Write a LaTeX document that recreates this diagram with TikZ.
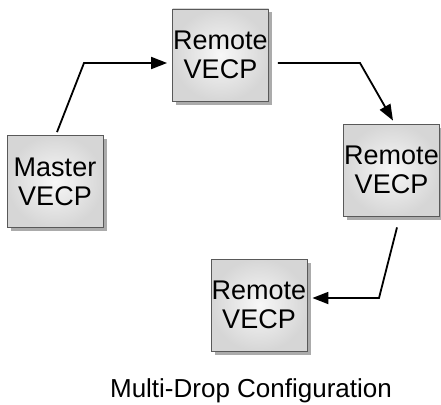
\documentclass[tikz,border=0pt]{standalone}
\usepackage{fontspec}
\setmainfont{Liberation Sans}
\usetikzlibrary{arrows.meta,shadows}
\begin{document}
\begin{tikzpicture}[x=1pt,y=-1pt,
  vecp/.style={draw=black!65, line width=0.8pt, minimum width=96pt, minimum height=92pt,
    inner sep=0pt, align=center, shade, inner color=white!97!black, outer color=black!16,
    font=\fontsize{27}{29}\selectfont,
    drop shadow={shadow xshift=3.5pt, shadow yshift=-3.5pt, fill=black!33, opacity=1}},
  conn/.style={line width=1.8pt, -{Triangle[length=16pt,width=12pt]}},
  caption/.style={font=\fontsize{26}{29}\selectfont, anchor=base}]
\useasboundingbox (0,0) rectangle (441,404);
\node[vecp] (m)  at (55,181.5)  {Master\\VECP};
\node[vecp] (r1) at (220.5,55)  {Remote\\VECP};
\node[vecp] (r2) at (391.5,170) {Remote\\VECP};
\node[vecp] (r3) at (259,305)   {Remote\\VECP};
\coordinate (b1) at (84,63);
\coordinate (b2) at (360,63);
\coordinate (b3) at (379,298);
\draw[conn] ([xshift=2pt,yshift=3pt]m.north) -- (b1) -- ([xshift=-5pt,yshift=-8pt]r1.west);
\draw[conn] ([xshift=9pt,yshift=-8pt]r1.east) -- (b2) -- ([xshift=1.5pt,yshift=3pt]r2.north);
\draw[conn] ([xshift=5.5pt,yshift=-11pt]r2.south) -- (b3) -- ([xshift=5pt,yshift=7pt]r3.east);
\node[caption] (cap) at (251,397) {Multi-Drop Configuration};
\end{tikzpicture}
\end{document}
